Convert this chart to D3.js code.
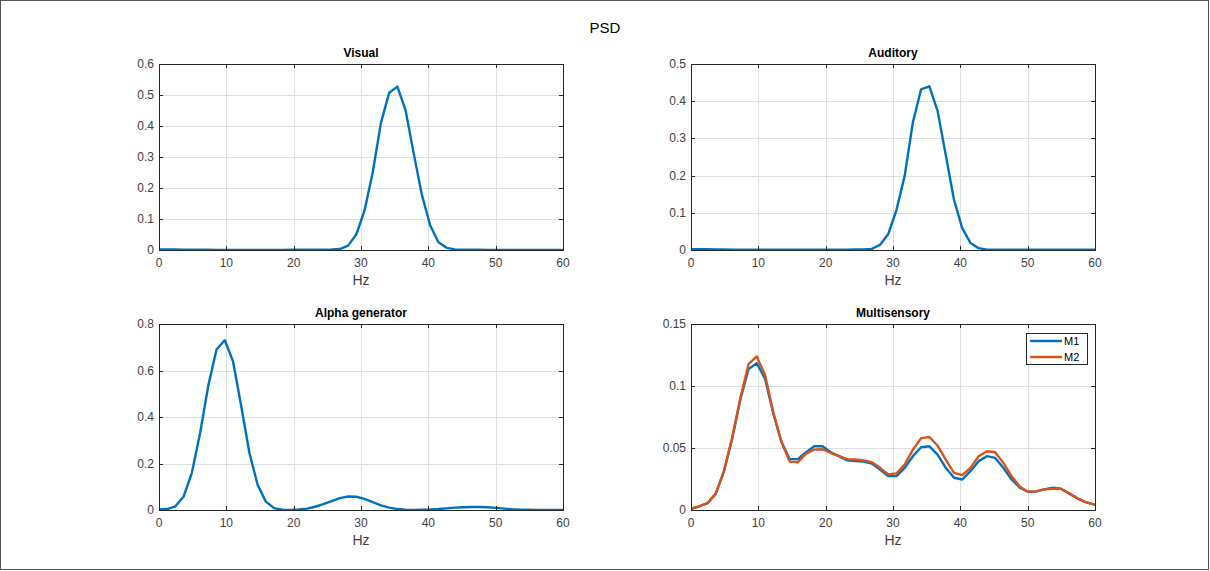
<!DOCTYPE html>
<html><head><meta charset="utf-8">
<script src="https://cdn.jsdelivr.net/npm/d3@7"></script>
<style>body{margin:0;background:#fff}svg{display:block}text{font-family:"Liberation Sans",Arial,sans-serif}</style>
</head><body>
<svg id="c" width="1210" height="571"></svg>
<script>
const freq = [0,1.22,2.44,3.66,4.88,6.10,7.32,8.54,9.77,10.99,12.21,13.43,14.65,15.87,17.09,18.31,19.53,20.75,21.97,23.19,24.41,25.63,26.86,28.08,29.30,30.52,31.74,32.96,34.18,35.40,36.62,37.84,39.06,40.28,41.50,42.72,43.95,45.17,46.39,47.61,48.83,50.05,51.27,52.49,53.71,54.93,56.15,57.37,58.59,59.81,61.04];
const visual = [0.002,0.002,0.0015,0.001,0.001,0.0008,0.0006,0.0005,0.0005,0.0005,0.0005,0.0005,0.0005,0.0005,0.0005,0.0005,0.0006,0.0007,0.0008,0.001,0.0012,0.0015,0.003,0.014,0.05,0.127,0.25,0.41,0.507,0.527,0.451,0.31,0.176,0.079,0.025,0.007,0.002,0.001,0.0008,0.0006,0.0005,0.0005,0.0005,0.0005,0.0005,0.0005,0.0005,0.0005,0.0005,0.0005,0.0005];
const auditory = [0.002,0.002,0.002,0.0015,0.0012,0.001,0.0008,0.0006,0.0005,0.0005,0.0005,0.0005,0.0005,0.0005,0.0005,0.0005,0.0006,0.0007,0.0008,0.001,0.0012,0.0015,0.003,0.014,0.043,0.108,0.20,0.344,0.432,0.44,0.374,0.255,0.135,0.059,0.019,0.005,0.001,0.0008,0.0006,0.0005,0.0005,0.0005,0.0005,0.0005,0.0005,0.0005,0.0005,0.0005,0.0005,0.0005,0.0005];
const alpha = [0.002,0.004,0.016,0.058,0.16,0.33,0.535,0.69,0.73,0.64,0.447,0.245,0.108,0.036,0.008,0.001,0.0005,0.002,0.006,0.014,0.025,0.038,0.051,0.058,0.057,0.048,0.034,0.02,0.01,0.004,0.001,0.0005,0.001,0.002,0.004,0.007,0.01,0.012,0.013,0.013,0.012,0.009,0.006,0.003,0.0015,0.0008,0.0005,0.0005,0.0005,0.0005,0.0005];
const m1 = [0.001,0.003,0.0055,0.013,0.031,0.057,0.089,0.1136,0.1184,0.106,0.078,0.055,0.041,0.041,0.0466,0.0514,0.0514,0.0466,0.0434,0.040,0.0394,0.039,0.0375,0.0327,0.0273,0.0273,0.034,0.0434,0.0506,0.0514,0.0447,0.034,0.026,0.0246,0.0313,0.0394,0.0434,0.042,0.034,0.0246,0.018,0.0147,0.015,0.0166,0.018,0.0171,0.0134,0.0094,0.0064,0.0046,0.003];
const m2 = [0.001,0.003,0.0055,0.013,0.031,0.058,0.090,0.1176,0.1238,0.109,0.079,0.055,0.039,0.0385,0.0455,0.0487,0.049,0.046,0.0434,0.041,0.0407,0.040,0.0386,0.034,0.0287,0.0295,0.0367,0.0487,0.058,0.0589,0.052,0.0407,0.030,0.0281,0.034,0.0434,0.0474,0.0466,0.038,0.0273,0.019,0.0147,0.015,0.0166,0.0171,0.0171,0.0134,0.0094,0.0064,0.0046,0.003];
const xTicks = [0,10,20,30,40,50,60];
const yTicksVisual = [0,0.1,0.2,0.3,0.4,0.5,0.6];
const yTicksAuditory = [0,0.1,0.2,0.3,0.4,0.5];
const yTicksAlpha = [0,0.2,0.4,0.6,0.8];
const yTicksMulti = [0,0.05,0.1,0.15];
const titles = ["Visual","Auditory","Alpha generator","Multisensory"];
const legendLabels = ["M1","M2"];
const colors = ["#0072BD","#D95319"];

const svg = d3.select("#c");
svg.append("rect").attr("x",0.5).attr("y",0.5).attr("width",1208).attr("height",569)
  .attr("fill","#fff").attr("stroke","#555").attr("stroke-width",1);
svg.append("text").attr("x",605).attr("y",33).attr("text-anchor","middle")
  .attr("font-size",15).attr("fill","#000").text("PSD");

const panels = [
  {x0:159,x1:563,y0:64,y1:250,ymax:0.6,yt:yTicksVisual,series:[visual],title:titles[0]},
  {x0:691,x1:1095,y0:64,y1:250,ymax:0.5,yt:yTicksAuditory,series:[auditory],title:titles[1]},
  {x0:159,x1:563,y0:324,y1:510,ymax:0.8,yt:yTicksAlpha,series:[alpha],title:titles[2]},
  {x0:691,x1:1095,y0:324,y1:510,ymax:0.15,yt:yTicksMulti,series:[m1,m2],title:titles[3],legend:true}
];
const axc = "#262626";
const txc = "#404040";
panels.forEach((p,pi)=>{
  const x = d3.scaleLinear().domain([0,60]).range([p.x0,p.x1]);
  const y = d3.scaleLinear().domain([0,p.ymax]).range([p.y1,p.y0]);
  const g = svg.append("g");
  g.selectAll(".gx").data(xTicks.slice(1,-1)).join("line")
    .attr("x1",d=>Math.round(x(d))+0.5).attr("x2",d=>Math.round(x(d))+0.5)
    .attr("y1",p.y0).attr("y2",p.y1).attr("stroke","#dfdfdf").attr("stroke-width",1);
  g.selectAll(".gy").data(p.yt.slice(1,-1)).join("line")
    .attr("y1",d=>Math.round(y(d))+0.5).attr("y2",d=>Math.round(y(d))+0.5)
    .attr("x1",p.x0).attr("x2",p.x1).attr("stroke","#dfdfdf").attr("stroke-width",1);
  const cid = "clip"+pi;
  svg.append("clipPath").attr("id",cid).append("rect")
    .attr("x",p.x0).attr("y",p.y0-2).attr("width",p.x1-p.x0+1).attr("height",p.y1-p.y0+4);
  const line = d3.line().x((d,i)=>x(freq[i])).y(d=>y(d));
  p.series.forEach((s,si)=>{
    g.append("path").datum(s).attr("d",line).attr("fill","none")
      .attr("stroke",colors[si]).attr("stroke-width",2.4).attr("stroke-linejoin","round")
      .attr("clip-path",`url(#${cid})`);
  });
  g.append("rect").attr("x",p.x0+0.5).attr("y",p.y0+0.5).attr("width",p.x1-p.x0).attr("height",p.y1-p.y0)
    .attr("fill","none").attr("stroke",axc).attr("stroke-width",1);
  xTicks.forEach(t=>{
    const xx = Math.round(x(t))+0.5;
    g.append("line").attr("x1",xx).attr("x2",xx).attr("y1",p.y1).attr("y2",p.y1-4).attr("stroke",axc);
    g.append("line").attr("x1",xx).attr("x2",xx).attr("y1",p.y0).attr("y2",p.y0+4).attr("stroke",axc);
    g.append("text").attr("x",x(t)).attr("y",p.y1+17).attr("text-anchor","middle")
      .attr("font-size",12).attr("fill",txc).text(t);
  });
  p.yt.forEach(t=>{
    const yy = Math.round(y(t))+0.5;
    g.append("line").attr("y1",yy).attr("y2",yy).attr("x1",p.x0).attr("x2",p.x0+4).attr("stroke",axc);
    g.append("line").attr("y1",yy).attr("y2",yy).attr("x1",p.x1).attr("x2",p.x1-4).attr("stroke",axc);
    g.append("text").attr("x",p.x0-5).attr("y",y(t)+4).attr("text-anchor","end")
      .attr("font-size",12).attr("fill",txc).text(t);
  });
  g.append("text").attr("x",(p.x0+p.x1)/2).attr("y",p.y0-7).attr("text-anchor","middle")
    .attr("font-size",12).attr("font-weight","bold").attr("fill","#000").text(p.title);
  g.append("text").attr("x",(p.x0+p.x1)/2).attr("y",p.y1+35).attr("text-anchor","middle")
    .attr("font-size",14).attr("fill",txc).text("Hz");
  if(p.legend){
    const lx=1026, ly=333;
    g.append("rect").attr("x",lx+0.5).attr("y",ly+0.5).attr("width",61).attr("height",31)
      .attr("fill","#fff").attr("stroke",axc);
    legendLabels.forEach((l,i)=>{
      const yy = ly+8+i*16;
      g.append("line").attr("x1",lx+4).attr("x2",lx+36).attr("y1",yy).attr("y2",yy)
        .attr("stroke",colors[i]).attr("stroke-width",2.4);
      g.append("text").attr("x",lx+38).attr("y",yy+4).attr("font-size",11).attr("fill","#000").text(l);
    });
  }
});
</script>
</body></html>
